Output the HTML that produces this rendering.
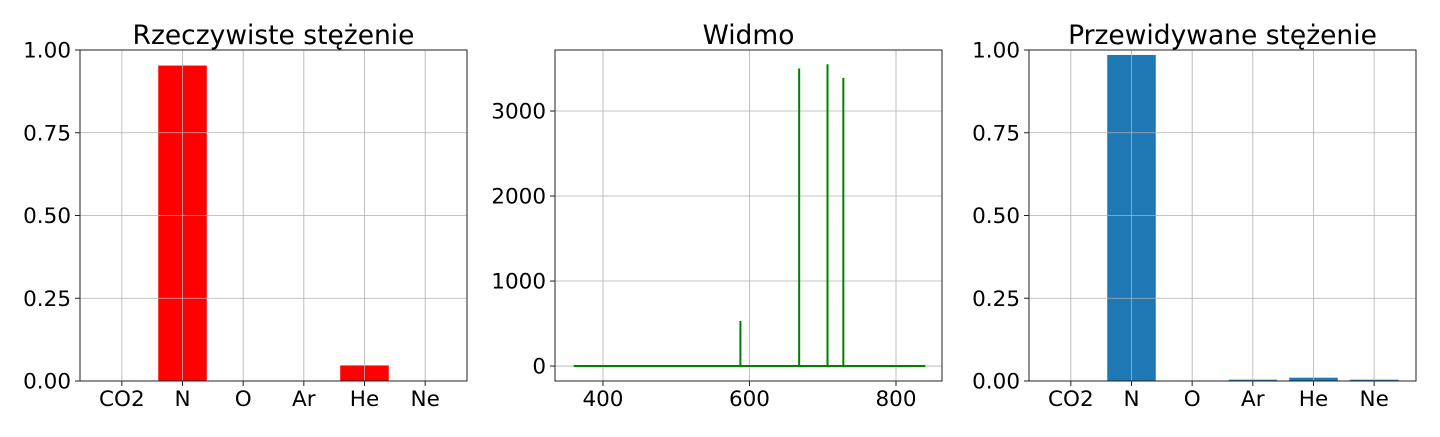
<!DOCTYPE html>
<html><head><meta charset="utf-8"><style>
body{margin:0;background:#fff;font-family:"Liberation Sans","DejaVu Sans",sans-serif}
svg text{font-family:"DejaVu Sans","Liberation Sans",sans-serif}
</style></head><body>
<svg id="s" width="1440" height="432"></svg>
<script>
const cats=["CO2","N","O","Ar","He","Ne"];
const realVals=[0,0.953,0,0,0.047,0];
const predVals=[0,0.985,0,0.004,0.01,0.004];
const barTicks=[0,0.25,0.5,0.75,1.0];
const barTickLabels=["0.00","0.25","0.50","0.75","1.00"];
const specX=[360,587.6,587.6,587.6,667.8,667.8,667.8,706.5,706.5,706.5,728.1,728.1,728.1,840];
const specY=[0,0,530,0,0,3500,0,0,3550,0,0,3390,0,0];
const specXTicks=[400,600,800];
const specYTicks=[0,1000,2000,3000];
const svg=document.getElementById('s');
const NS="http://www.w3.org/2000/svg";
function mk(t,a,p){const e=document.createElementNS(NS,t);for(const k in a)e.setAttribute(k,a[k]);(p||svg).appendChild(e);return e;}
const T=50,B=381,FS=21.5;
function panel(L,R,title,name){
  const g=mk('g',{});
  
  
  const t=mk('text',{x:(L+R)/2,y:44,'font-size':26.5,'text-anchor':'middle'},g);t.textContent=title;
  
  
  return g;
}
function frame(g,L,R){const r=mk('rect',{x:L,y:T,width:R-L,height:B-T,fill:'none',stroke:'#222','stroke-width':1},g);
  
  }
function barPanel(L,R,vals,color,title,name){
  const g=panel(L,R,title,name);
  const xs=i=>L+(i+0.69)*(R-L)/6.38, ys=v=>B-v*(B-T);
  vals.forEach((v,i)=>{const w=0.8*(R-L)/6.38;
    const b=mk('rect',{x:xs(i)-w/2,y:ys(v),width:w,height:B-ys(v),fill:color},g);
    
    });
  cats.forEach((c,i)=>{mk('line',{x1:xs(i),x2:xs(i),y1:T,y2:B,stroke:'#b0b0b0','stroke-width':0.8},g);
    mk('line',{x1:xs(i),x2:xs(i),y1:B,y2:B+5,stroke:'#222'},g);
    const t=mk('text',{x:xs(i),y:B+25,'font-size':FS,'text-anchor':'middle'},g);t.textContent=c;
    
    });
  barTicks.forEach((v,i)=>{mk('line',{x1:L,x2:R,y1:ys(v),y2:ys(v),stroke:'#b0b0b0','stroke-width':0.8},g);
    mk('line',{x1:L-5,x2:L,y1:ys(v),y2:ys(v),stroke:'#222'},g);
    const t=mk('text',{x:L-9,y:ys(v)+7.5,'font-size':FS,'text-anchor':'end'},g);t.textContent=barTickLabels[i];
    
    });
  frame(g,L,R);
}
barPanel(80,467,realVals,'#ff0000','Rzeczywiste stężenie','real-concentration-chart');
barPanel(1029,1416,predVals,'#1f77b4','Przewidywane stężenie','predicted-concentration-chart');
(function(){
  const L=555,R=942,g=panel(L,R,'Widmo','spectrum-chart');
  const xs=v=>L+(v-334.5)*(R-L)/(862.8-334.5), ys=v=>B-(v+176)*(B-T)/(3718+176);
  specXTicks.forEach(v=>{mk('line',{x1:xs(v),x2:xs(v),y1:T,y2:B,stroke:'#b0b0b0','stroke-width':0.8},g);
    mk('line',{x1:xs(v),x2:xs(v),y1:B,y2:B+5,stroke:'#222'},g);
    const t=mk('text',{x:xs(v),y:B+25,'font-size':FS,'text-anchor':'middle'},g);t.textContent=v;
    
    });
  specYTicks.forEach(v=>{mk('line',{x1:L,x2:R,y1:ys(v),y2:ys(v),stroke:'#b0b0b0','stroke-width':0.8},g);
    mk('line',{x1:L-5,x2:L,y1:ys(v),y2:ys(v),stroke:'#222'},g);
    const t=mk('text',{x:L-9,y:ys(v)+7.5,'font-size':FS,'text-anchor':'end'},g);t.textContent=v;
    
    });
  const p=mk('polyline',{points:specX.map((x,i)=>xs(x)+','+ys(specY[i])).join(' '),fill:'none',stroke:'green','stroke-width':2},g);
  
  
  frame(g,L,R);
})();
</script>
</body></html>
